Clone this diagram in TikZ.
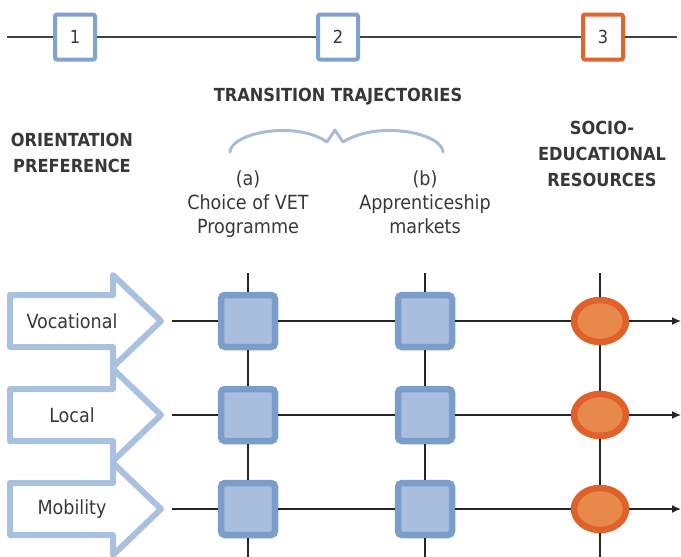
\documentclass[tikz,border=0pt]{standalone}
\usepackage{fontspec}
\setmainfont{DejaVu Sans Condensed}
\usetikzlibrary{arrows.meta,positioning,shapes.geometric}

\definecolor{textgray}{HTML}{383838}
\definecolor{stepblue}{HTML}{7FA2CF}
\definecolor{steporange}{HTML}{E0642C}
\definecolor{prefblue}{HTML}{A9C0DE}
\definecolor{boxfill}{HTML}{A9BEDC}
\definecolor{boxline}{HTML}{7B9DCA}
\definecolor{resfill}{HTML}{E8894C}
\definecolor{resline}{HTML}{E0622A}
\definecolor{bracecol}{HTML}{A7BCD7}

\begin{document}
\begin{tikzpicture}[x=1pt, y=-1pt,
    stepmark/.style={draw=stepblue, fill=white, line width=4pt, rounded corners=2pt, inner sep=0pt,
      minimum width=40pt, minimum height=45pt, text=textgray, font=\fontsize{18}{22}\selectfont},
    heading/.style={align=center, text=textgray, font=\bfseries\fontsize{18}{26}\selectfont},
    caption/.style={align=center, anchor=north, text=textgray, font=\fontsize{19.5}{24}\selectfont},
    preflabel/.style={text=textgray, font=\fontsize{19.5}{24}\selectfont},
    prefarrow/.style={draw=prefblue, line width=6pt, line join=round},
    trajbox/.style={draw=boxline, fill=boxfill, line width=6.5pt, rounded corners=4pt, inner sep=0pt,
      minimum width=54pt, minimum height=52pt},
    resource/.style={ellipse, draw=resline, fill=resfill, line width=6.5pt, inner sep=0pt,
      minimum width=52pt, minimum height=42pt},
    link/.style={draw=black!85, line width=1.4pt}]
  \useasboundingbox (0,0) rectangle (681,557);

  % time line with the three steps
  \coordinate (t0) at (7,37);
  \coordinate (t4) at (677,37);
  \node[stepmark] (1) at (75,37) {1};
  \node[stepmark] (2) at (338,37) {2};
  \node[stepmark, draw=steporange] (3) at (603,37) {3};
  \draw[link, draw=black!75] (t0) -- (1) -- (2) -- (3) -- (t4);

  % headings
  \node[heading] (orient) at (72,153) {ORIENTATION\\PREFERENCE};
  \node[heading] (trans) at (338,97) {TRANSITION TRAJECTORIES};
  \node[heading] (socio) at (602,154) {SOCIO-\\EDUCATIONAL\\RESOURCES};
  \node[caption] (vet) at (248,167) {(a)\\Choice of VET\\Programme};
  \node[caption] (app) at (425,167) {(b)\\Apprenticeship\\markets};
  \draw[bracecol, line width=3pt, line cap=round, line join=round]
    (230,152) .. controls (231,133) and (295,120) .. (327,142) -- (335,130) -- (343,142)
    .. controls (378,120) and (442,133) .. (443,152);

  % the three rows
  \foreach \i/\t/\y in {1/Vocational/321, 2/Local/415, 3/Mobility/509} {
    \draw[prefarrow] (10,\y-26) -- (113,\y-26) -- (113,\y-46) -- (161,\y) -- (113,\y+46)
      -- (113,\y+26) -- (10,\y+26) -- cycle;
    \node[preflabel] (p\i) at (72,\y) {\t};
    \coordinate (s\i) at (172,\y);
    \coordinate (e\i) at (681,\y);
    \node[trajbox] (a\i) at (248,\y) {};
    \node[trajbox] (b\i) at (425,\y) {};
    \node[resource] (c\i) at (600,\y) {};
    \draw[link, -{Latex[length=9pt, width=8pt]}] (s\i) -- (a\i) -- (b\i) -- (c\i) -- (e\i);
  }

  % vertical lines through the columns
  \foreach \c/\x in {a/248, b/425, c/600} {
    \coordinate (\c0) at (\x,273);
    \coordinate (\c4) at (\x,557);
    \draw[link] (\c0) -- (\c1) -- (\c2) -- (\c3) -- (\c4);
  }
\end{tikzpicture}
\end{document}
